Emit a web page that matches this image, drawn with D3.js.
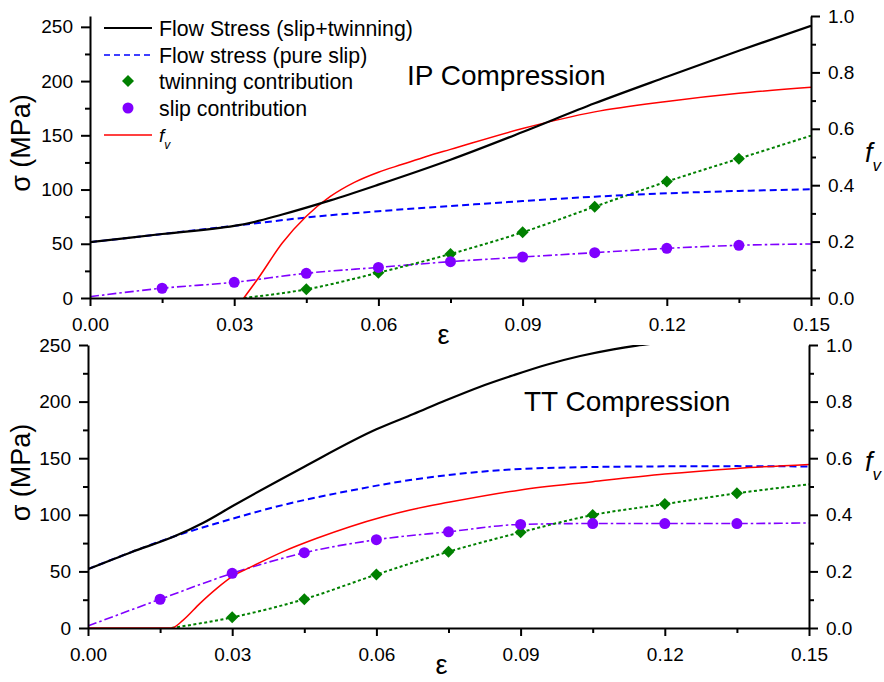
<!DOCTYPE html>
<html>
<head>
<meta charset="utf-8">
<script src="https://cdn.jsdelivr.net/npm/d3@7"></script>
<style>
  body { margin: 0; background: #fff; }
  svg { display: block; font-family: "Liberation Sans", Arial, sans-serif; }
</style>
</head>
<body>
<svg id="chart" width="884" height="682"></svg>
<script>
// ---- axis ticks ----
const epsTicks = [0, 0.03, 0.06, 0.09, 0.12, 0.15];
const epsMinor = [0.015, 0.045, 0.075, 0.105, 0.135];
const sigmaTicks = [0, 50, 100, 150, 200, 250];
const sigmaMinor = [25, 75, 125, 175, 225];
const fvTicks = [0, 0.2, 0.4, 0.6, 0.8, 1.0];
const fvMinor = [0.1, 0.3, 0.5, 0.7, 0.9];

// ---- IP compression ----
const ipFlowEps = [0, 0.015, 0.03, 0.032, 0.04, 0.05, 0.06, 0.075, 0.09, 0.105, 0.12, 0.135, 0.15];
const ipFlow    = [51.5, 59, 66.5, 68, 77, 90, 104.5, 127.5, 153, 179.5, 204, 228, 251];
const ipSlipEps = [0, 0.015, 0.03, 0.045, 0.06, 0.075, 0.09, 0.105, 0.12, 0.135, 0.15];
const ipSlip    = [51.5, 59, 66.5, 74.2, 80, 84.8, 89.4, 93.4, 96.5, 98.7, 100.2];
const ipFvEps   = [0.032, 0.035, 0.04, 0.045, 0.05, 0.055, 0.06, 0.065, 0.07, 0.075, 0.09, 0.105, 0.12, 0.135, 0.15];
const ipFv      = [0, 0.07, 0.195, 0.29, 0.36, 0.41, 0.446, 0.474, 0.502, 0.527, 0.601, 0.66, 0.697, 0.726, 0.747];
const ipTwinEps = [0.032, 0.045, 0.06, 0.075, 0.09, 0.105, 0.12, 0.135, 0.15];
const ipTwin    = [0, 8.0, 23.3, 40.6, 60.6, 84.2, 107.3, 128.5, 149.7];
const ipSlipCEps = [0, 0.015, 0.03, 0.045, 0.06, 0.075, 0.09, 0.105, 0.12, 0.135, 0.15];
const ipSlipC    = [1.2, 9, 14.5, 22.8, 28.2, 33.5, 37.8, 41.8, 45.8, 48.6, 49.8];

// ---- TT compression ----
const ttFlowEps = [0, 0.009, 0.018, 0.024, 0.03, 0.045, 0.06, 0.0677, 0.0746, 0.0816, 0.0885, 0.0954, 0.1024, 0.1093, 0.1142, 0.118];
const ttFlow    = [52, 67, 81, 93, 107.5, 142.5, 175.5, 189, 201.4, 213.2, 223.3, 232.6, 240.3, 246.2, 249.5, 251.5];
const ttSlipEps = [0, 0.009, 0.018, 0.0268, 0.0406, 0.0545, 0.067, 0.075, 0.09, 0.105, 0.12, 0.135, 0.15];
const ttSlip    = [52, 67, 81, 92.5, 108.7, 121.3, 130.7, 135.2, 140.5, 142.2, 142.8, 143, 142.7];
const ttFvEps   = [0, 0.0174, 0.0198, 0.0233, 0.0268, 0.0302, 0.0337, 0.0406, 0.0476, 0.0545, 0.0614, 0.067, 0.075, 0.09, 0.105, 0.12, 0.135, 0.15];
const ttFv      = [0, 0, 0.028, 0.087, 0.140, 0.184, 0.214, 0.270, 0.317, 0.358, 0.393, 0.417, 0.444, 0.488, 0.517, 0.544, 0.564, 0.578];
const ttTwinEps = [0.0174, 0.03, 0.045, 0.06, 0.075, 0.09, 0.105, 0.12, 0.135, 0.15];
const ttTwin    = [0, 9.4, 25.5, 47.2, 67.4, 84.5, 99.8, 109.5, 119, 126.9];
const ttSlipCEps = [0, 0.015, 0.03, 0.045, 0.06, 0.075, 0.09, 0.105, 0.12, 0.135, 0.15];
const ttSlipC    = [1.8, 25.4, 48.3, 66.5, 78, 85, 91.5, 92.3, 92.3, 92.3, 92.8];

// strain values that carry a symbol
const ipTwinMarks  = [0.045, 0.06, 0.075, 0.09, 0.105, 0.12, 0.135];
const ipSlipMarks  = [0.015, 0.03, 0.045, 0.06, 0.075, 0.09, 0.105, 0.12, 0.135];
const ttTwinMarks  = [0.03, 0.045, 0.06, 0.075, 0.09, 0.105, 0.12, 0.135];
const ttSlipMarks  = [0.015, 0.03, 0.045, 0.06, 0.075, 0.09, 0.105, 0.12, 0.135];

const legendLabels = ["Flow Stress (slip+twinning)", "Flow stress (pure slip)", "twinning contribution", "slip contribution"];

const COLORS = { flow: "#000000", slip: "#0000ff", twin: "#008000", slipC: "#8000ff", fv: "#ff0000" };

const svg = d3.select("#chart");

function pairs(xs, ys) { return d3.zip(xs, ys); }
function lookup(xs, ys, e) { return ys[xs.findIndex(v => Math.abs(v - e) < 1e-9)]; }

function styleAxis(g, fontSize) {
  g.selectAll(".domain, .tick line").attr("stroke", "#000").attr("stroke-width", 2);
  g.selectAll(".tick text").attr("fill", "#000").style("font-size", fontSize + "px");
}

function drawPanel(p) {
  const g = svg.append("g");
  const x = d3.scaleLinear().domain([0, 0.15]).range([p.left, p.right]);
  const yS = d3.scaleLinear().domain([0, p.sigmaMax]).range([p.bottom, p.top]);
  const yF = d3.scaleLinear().domain([0, 1]).range([p.bottom, p.top]);

  const clipId = "clip-" + p.id;
  svg.append("defs").append("clipPath").attr("id", clipId)
    .append("rect").attr("x", p.left).attr("y", p.top)
    .attr("width", p.right - p.left).attr("height", p.bottom - p.top);

  const plot = g.append("g").attr("clip-path", `url(#${clipId})`);
  const lineS = d3.line().x(d => x(d[0])).y(d => yS(d[1])).curve(d3.curveMonotoneX);
  const lineF = d3.line().x(d => x(d[0])).y(d => yF(d[1])).curve(d3.curveMonotoneX);

  // slip contribution (dash-dot)
  plot.append("path").datum(pairs(p.slipCEps, p.slipC)).attr("d", lineS)
    .attr("fill", "none").attr("stroke", COLORS.slipC).attr("stroke-width", 1.6)
    .attr("stroke-dasharray", "9,3,2.5,3");
  // twinning contribution (dotted)
  plot.append("path").datum(pairs(p.twinEps, p.twin)).attr("d", lineS)
    .attr("fill", "none").attr("stroke", COLORS.twin).attr("stroke-width", 2)
    .attr("stroke-dasharray", "3,2.5");
  // pure slip flow stress (dashed)
  plot.append("path").datum(pairs(p.slipEps, p.slip)).attr("d", lineS)
    .attr("fill", "none").attr("stroke", COLORS.slip).attr("stroke-width", 2)
    .attr("stroke-dasharray", "7,4");
  // twin volume fraction
  plot.append("path").datum(pairs(p.fvEps, p.fv)).attr("d", lineF)
    .attr("fill", "none").attr("stroke", COLORS.fv).attr("stroke-width", 1.5);
  // total flow stress
  plot.append("path").datum(pairs(p.flowEps, p.flow)).attr("d", lineS)
    .attr("fill", "none").attr("stroke", COLORS.flow).attr("stroke-width", 2.2);

  // markers
  const diamond = d3.symbol().type(d3.symbolSquare).size(72);
  plot.selectAll(".twinMark").data(p.twinMarks).join("path")
    .attr("d", diamond)
    .attr("transform", e => `translate(${x(e)},${yS(lookup(p.twinEps, p.twin, e))}) rotate(45)`)
    .attr("fill", COLORS.twin);
  plot.selectAll(".slipMark").data(p.slipMarks).join("circle")
    .attr("cx", e => x(e)).attr("cy", e => yS(lookup(p.slipCEps, p.slipC, e)))
    .attr("r", 5.5).attr("fill", COLORS.slipC);

  // axes
  const ax = g.append("g").attr("transform", `translate(0,${p.bottom})`)
    .call(d3.axisBottom(x).tickValues(epsTicks).tickFormat(d3.format(".2f"))
      .tickSize(8).tickPadding(12).tickSizeOuter(0));
  styleAxis(ax, 19);
  const axm = g.append("g").attr("transform", `translate(0,${p.bottom})`)
    .call(d3.axisBottom(x).tickValues(epsMinor).tickFormat("").tickSize(5));
  axm.select(".domain").remove(); styleAxis(axm, 19);

  const ay = g.append("g").attr("transform", `translate(${p.left},0)`)
    .call(d3.axisLeft(yS).tickValues(sigmaTicks).tickSize(9).tickPadding(8).tickSizeOuter(0));
  styleAxis(ay, 19);
  const aym = g.append("g").attr("transform", `translate(${p.left},0)`)
    .call(d3.axisLeft(yS).tickValues(sigmaMinor).tickFormat("").tickSize(5));
  aym.select(".domain").remove(); styleAxis(aym, 19);

  const ar = g.append("g").attr("transform", `translate(${p.right},0)`)
    .call(d3.axisRight(yF).tickValues(fvTicks).tickFormat(d3.format(".1f"))
      .tickSize(9).tickPadding(8).tickSizeOuter(0));
  styleAxis(ar, 19);
  const arm = g.append("g").attr("transform", `translate(${p.right},0)`)
    .call(d3.axisRight(yF).tickValues(fvMinor).tickFormat("").tickSize(5));
  arm.select(".domain").remove(); styleAxis(arm, 19);

  // axis titles
  g.append("text").attr("x", (p.left + p.right) / 2 - 7).attr("y", p.bottom + 46)
    .attr("text-anchor", "middle").style("font-size", "27px").text("ε");
  g.append("text").attr("transform", `translate(30,${(p.top + p.bottom) / 2 - 14}) rotate(-90)`)
    .attr("text-anchor", "middle").style("font-size", "27px").text("σ (MPa)");
  const fl = g.append("text").attr("x", 865).attr("y", p.fvLabelY);
  fl.append("tspan").style("font-style", "italic").style("font-size", "27px").text("f");
  fl.append("tspan").attr("dy", 9).style("font-style", "italic").style("font-size", "17px").text("v");

  // panel title
  g.append("text").attr("x", p.titleX).attr("y", p.titleY).style("font-size", "28px").text(p.title);
  return { x, yS, yF };
}

drawPanel({
  id: "ip", title: "IP Compression", titleX: 407, titleY: 85, fvLabelY: 162,
  left: 90, right: 811, top: 16, bottom: 298, sigmaMax: 260,
  flowEps: ipFlowEps, flow: ipFlow, slipEps: ipSlipEps, slip: ipSlip,
  fvEps: ipFvEps, fv: ipFv, twinEps: ipTwinEps, twin: ipTwin,
  slipCEps: ipSlipCEps, slipC: ipSlipC, twinMarks: ipTwinMarks, slipMarks: ipSlipMarks
});
drawPanel({
  id: "tt", title: "TT Compression", titleX: 524, titleY: 411, fvLabelY: 471,
  left: 88, right: 809, top: 345, bottom: 628, sigmaMax: 250,
  flowEps: ttFlowEps, flow: ttFlow, slipEps: ttSlipEps, slip: ttSlip,
  fvEps: ttFvEps, fv: ttFv, twinEps: ttTwinEps, twin: ttTwin,
  slipCEps: ttSlipCEps, slipC: ttSlipC, twinMarks: ttTwinMarks, slipMarks: ttSlipMarks
});

// legend
const leg = svg.append("g");
const rowY = [28, 55, 81, 108, 135];
const lx0 = 104, lx1 = 152, ltx = 159;
leg.append("line").attr("x1", lx0).attr("x2", lx1).attr("y1", rowY[0]).attr("y2", rowY[0])
  .attr("stroke", COLORS.flow).attr("stroke-width", 2);
leg.append("line").attr("x1", lx0).attr("x2", lx1).attr("y1", rowY[1]).attr("y2", rowY[1])
  .attr("stroke", COLORS.slip).attr("stroke-width", 1.5).attr("stroke-dasharray", "6,4");
leg.append("path").attr("d", d3.symbol().type(d3.symbolSquare).size(72))
  .attr("transform", `translate(${(lx0 + lx1) / 2},${rowY[2]}) rotate(45)`).attr("fill", COLORS.twin);
leg.append("circle").attr("cx", (lx0 + lx1) / 2).attr("cy", rowY[3]).attr("r", 5.5).attr("fill", COLORS.slipC);
leg.append("line").attr("x1", lx0).attr("x2", lx1).attr("y1", rowY[4]).attr("y2", rowY[4])
  .attr("stroke", COLORS.fv).attr("stroke-width", 1.5);
legendLabels.forEach((t, i) => {
  leg.append("text").attr("x", ltx).attr("y", rowY[i] + 7.5).style("font-size", "21.3px").text(t);
});
const lf = leg.append("text").attr("x", ltx).attr("y", rowY[4] + 7);
lf.append("tspan").style("font-style", "italic").style("font-size", "19px").text("f");
lf.append("tspan").attr("dy", 7).style("font-style", "italic").style("font-size", "12px").text("v");
</script>
</body>
</html>
